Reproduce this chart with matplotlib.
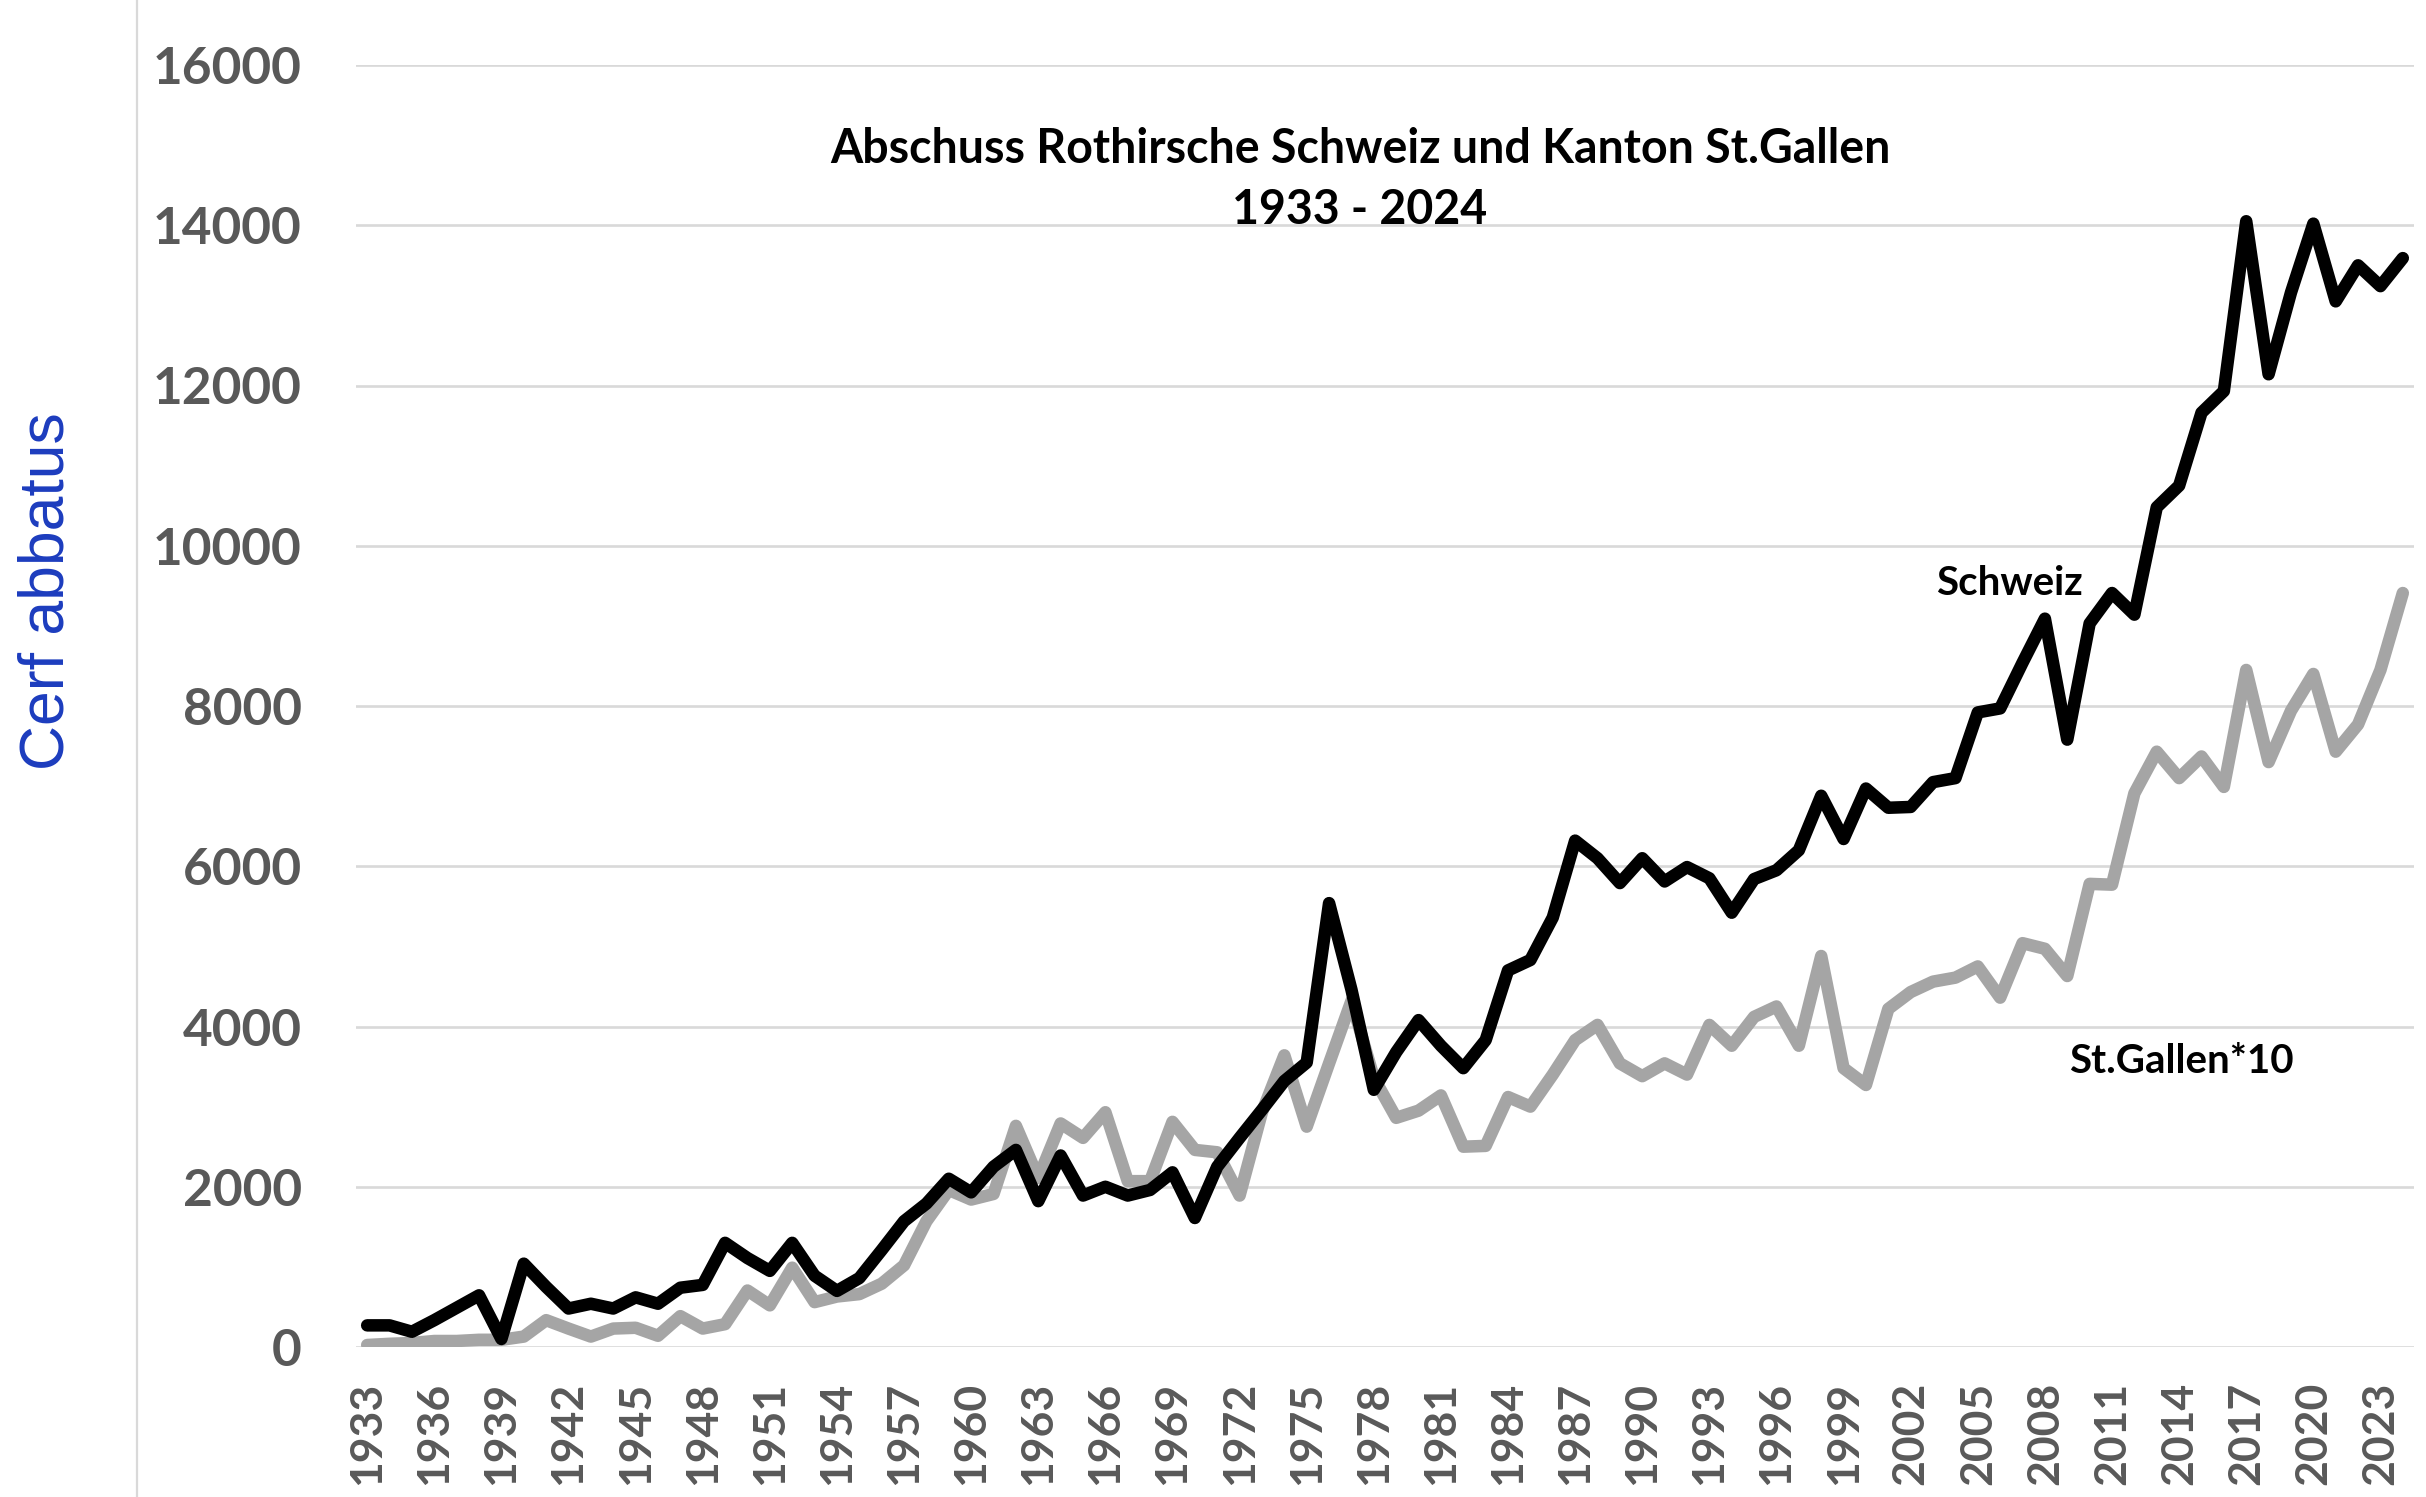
import matplotlib
matplotlib.use("Agg")
import matplotlib.pyplot as plt
from matplotlib.patches import Rectangle

years = list(range(1933, 2025))

schweiz = [
    270, 270, 190, 335, 490, 645, 100, 1040, 750, 480,
    540, 480, 620, 540, 740, 775, 1300, 1110, 950, 1300,
    890, 700, 860, 1210, 1570, 1790, 2100, 1930, 2250, 2460,
    1820, 2390, 1890, 2000, 1890, 1960, 2180, 1610, 2250, 2610,
    2960, 3320, 3550, 5540, 4460, 3210, 3680, 4080, 3760, 3480,
    3830, 4700, 4830, 5360, 6320, 6100, 5790, 6100, 5810, 5990,
    5850, 5420, 5840, 5950, 6200, 6880, 6340, 6970, 6730, 6740,
    7050, 7100, 7920, 7970, 8540, 9090, 7580, 9030, 9410, 9140,
    10480, 10750, 11660, 11930, 14050, 12140, 13160, 14020, 13050, 13500,
    13240, 13590,
]

st_gallen_x10 = [
    25, 40, 50, 75, 75, 90, 90, 130, 335, 230,
    130, 230, 240, 140, 385, 230, 285, 705, 520, 990,
    560, 630, 660, 790, 1020, 1570, 1960, 1840, 1910, 2760,
    2110, 2790, 2610, 2930, 2070, 2070, 2810, 2460, 2430, 1890,
    2930, 3640, 2750, 3540, 4320, 3360, 2860, 2950, 3140, 2500,
    2510, 3120, 3000, 3400, 3830, 4020, 3540, 3380, 3540, 3400,
    4020, 3760, 4120, 4250, 3760, 4880, 3480, 3270, 4220, 4430,
    4560, 4610, 4750, 4360, 5040, 4970, 4630, 5780, 5770, 6910,
    7430, 7100, 7370, 6990, 8450, 7300, 7940, 8400, 7430, 7770,
    8450, 9410,
]

y_ticks = [0, 2000, 4000, 6000, 8000, 10000, 12000, 14000, 16000]
x_ticks = years[::3]

title_line1 = "Abschuss Rothirsche Schweiz und Kanton St.Gallen"
title_line2 = "1933 - 2024"

W, H = 2426, 1497
fig = plt.figure(figsize=(W / 100, H / 100), dpi=100)
ax = fig.add_axes([356 / W, 150 / H, (2414 - 356) / W, (1347 - 65) / H])

grid_col = "#d9d9d9"
tick_col = "#595959"

ax.plot(years, st_gallen_x10, color="#a5a5a5", lw=9,
        solid_joinstyle="round", solid_capstyle="round", zorder=3)
ax.plot(years, schweiz, color="black", lw=9,
        solid_joinstyle="round", solid_capstyle="round", zorder=4)

ax.set_xlim(1932.5, 2024.5)
ax.set_ylim(0, 16000)
ax.set_yticks(y_ticks)
ax.set_xticks(x_ticks)
ax.set_xticklabels([str(y) for y in x_ticks], rotation=90)
ax.grid(axis="y", color=grid_col, lw=1.9, zorder=0)
ax.set_axisbelow(True)
for s in ax.spines.values():
    s.set_visible(False)
ax.tick_params(axis="both", length=0, colors=tick_col)
ax.tick_params(axis="y", pad=39)
ax.tick_params(axis="x", pad=25)
for lab in ax.get_yticklabels():
    lab.set_fontfamily("Lato")
    lab.set_fontweight("bold")
    lab.set_fontsize(37)
for lab in ax.get_xticklabels():
    lab.set_fontfamily("Lato")
    lab.set_fontweight("bold")
    lab.set_fontsize(32)

# series labels
ax.text(2006.4, 9383, "Schweiz", ha="center", va="baseline",
        family="Lato", weight="bold", fontsize=29, color="black")
ax.text(2014.1, 3423, "St.Gallen*10", ha="center", va="baseline",
        family="Lato", weight="bold", fontsize=29, color="black")

# title
fig.text(1360 / W, 1 - 163 / H, title_line1, ha="center", va="baseline",
         family="Lato", weight="bold", fontsize=33.5, color="black")
fig.text(1360 / W, 1 - 224 / H, title_line2, ha="center", va="baseline",
         family="Lato", weight="bold", fontsize=33.5, color="black")

# y label
fig.text(47 / W, 1 - 591 / H, "Cerf abbatus", rotation=90, ha="center",
         va="center", family="Liberation Sans", fontsize=45, color="#1c3cbe")

# chart frame (only left and top edges fall inside the picture)
fig.add_artist(Rectangle((137 / W, -0.2), 1.2, 1.2 + (1 - 14 / H),
                         transform=fig.transFigure, fill=False,
                         edgecolor=grid_col, lw=1.6))

fig.savefig("out.png", dpi=100)
